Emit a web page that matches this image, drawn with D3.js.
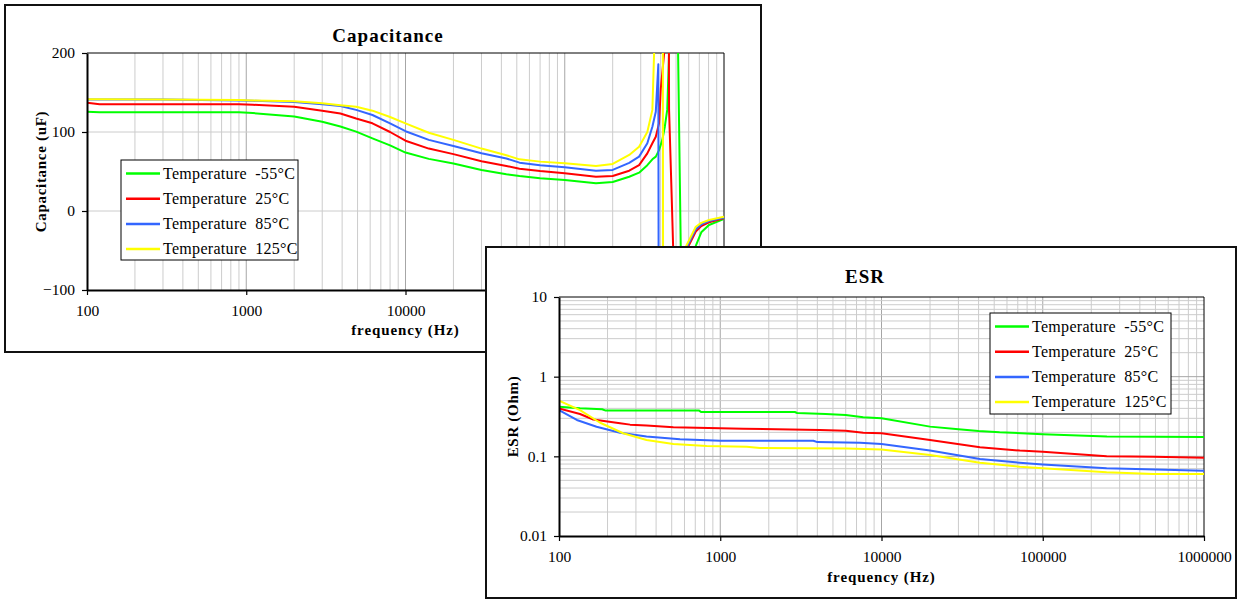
<!DOCTYPE html>
<html><head><meta charset="utf-8">
<script src="https://cdn.jsdelivr.net/npm/d3@7"></script>
<style>
body{margin:0;background:#fff}
svg{display:block}
text{font-family:"Liberation Serif","Times New Roman",serif;fill:#000}
</style>
</head><body>
<svg id="c" width="1237" height="599"></svg>
<script>
// ---------------- DATA ----------------
const seriesLabels = ["Temperature -55°C", "Temperature 25°C", "Temperature 85°C", "Temperature 125°C"];

// Capacitance (uF) vs frequency (Hz)
const capFreqM55 = [100,120,300,900,1100,2000,3000,3900,4900,6200,8000,10000,14000,20000,30000,43000,52000,70000,100000,157000,200000,254000,293000,330000,355000,373000,391000,410000,425000,440000,452000,456000,510000,515000,535000,545000,660000,665000,720000,805000,1000000];
const capValM55  = [125.5,125,125,125,124,119.5,113,107,100.5,92,83,74,66,60,52,46.5,44.3,41.5,39.2,35,36.7,43.4,48.5,58,65.4,68.8,77,90,106.7,128,200,500,500,200,-44,-500,-500,-44,-27,-17.7,-10];

const capFreq25 = [100,120,300,900,1100,2000,3000,3900,4900,6200,8000,10000,14000,20000,30000,43000,52000,70000,100000,157000,200000,254000,293000,330000,355000,373000,391000,401000,421000,426000,446000,452000,470000,480000,490000,595000,600000,665000,720000,805000,1000000];
const capVal25  = [137,135,135,135,134.5,132,127,123.5,117,111,100,89,79,72,63,57,53.6,50.5,47.7,43.4,44.3,51,58,73,85.7,94,111,155,200,500,500,128,14,-50,-500,-500,-44,-26,-19,-14.3,-9.2];

const capFreq85 = [100,120,300,900,1100,2000,3000,3900,4900,6200,8000,10000,14000,20000,30000,43000,52000,70000,100000,157000,200000,254000,293000,330000,355000,373000,387000,391000,585000,590000,665000,720000,805000,1000000];
const capVal85  = [141,141,141,140,139.5,138,135,133,128,121.5,111,101,90,82.3,73,66.5,61.2,58,55.3,51,52,61,68.8,85.7,106.7,125.7,185.7,-500,-500,-44,-23,-17,-12.7,-8.5];

const capFreq125 = [100,120,300,900,1100,2000,3000,3900,4900,6200,8000,10000,14000,20000,30000,43000,52000,70000,100000,157000,200000,254000,293000,330000,355000,364000,370000,412000,416000,575000,580000,665000,720000,805000,1000000];
const capVal125  = [141.5,141.5,141,140.5,140,139,136.5,134,132,127,119,111,99,90,79,70.5,65.4,62.5,60.4,57,59.5,71,81.4,100,128,200,500,500,-500,-500,-44,-20,-15,-11.4,-7.2];

const capXTicks = [100,1000,10000,100000,1000000];
const capYTicks = [-100,0,100,200];

// ESR (Ohm) vs frequency (Hz)
const esrFreqM55 = [100,135,185,195,740,760,2900,3000,4500,6000,7700,10000,20000,30000,40000,54000,100000,250000,1000000];
const esrValM55  = [0.42,0.40,0.39,0.375,0.375,0.36,0.36,0.35,0.34,0.33,0.31,0.30,0.236,0.219,0.208,0.20,0.19,0.177,0.175];

const esrFreq25 = [100,135,163,239,276,349,512,1390,4160,6000,7700,10000,20000,40800,72000,100000,249000,485000,1000000];
const esrVal25  = [0.40,0.34,0.29,0.26,0.25,0.243,0.231,0.222,0.214,0.21,0.198,0.195,0.16,0.13,0.118,0.114,0.10,0.0985,0.096];

const esrFreq85 = [100,129,171,239,349,563,1000,3780,4000,7360,10000,20000,40800,72000,100000,249000,1000000];
const esrVal85  = [0.38,0.286,0.235,0.198,0.177,0.164,0.157,0.157,0.151,0.148,0.143,0.118,0.0925,0.083,0.079,0.071,0.066];

const esrFreq125 = [100,135,180,250,349,512,824,1460,1760,6090,10000,20000,40800,72000,100000,249000,485000,1000000];
const esrVal125  = [0.50,0.38,0.264,0.195,0.16,0.143,0.135,0.132,0.127,0.125,0.122,0.104,0.083,0.074,0.071,0.063,0.06,0.06];

const esrXTicks = [100,1000,10000,100000,1000000];
const esrYTicks = [0.01,0.1,1,10];

// ---------------- STYLE ----------------
const colors = ["#00ff00", "#ff0000", "#3366ff", "#ffff00"];

const svg = d3.select("#c");
const zip = (f, v) => f.map((d, i) => [d, v[i]]);

function panel(o) {
  const g = svg.append("g");
  const [bx0, by0, bx1, by1] = o.box;
  const [px0, py0, px1, py1] = o.plot;
  g.append("rect").attr("x", bx0).attr("y", by0).attr("width", bx1 - bx0).attr("height", by1 - by0)
    .attr("fill", "#fff").attr("stroke", "#111").attr("stroke-width", 2);

  const x = d3.scaleLog().domain([100, 1000000]).range([px0, px1]);
  const y = o.y.range([py1, py0]);

  const isDecade = v => Math.abs(Math.log10(v) - Math.round(Math.log10(v))) < 1e-9;
  g.append("g").selectAll("line").data(x.ticks().filter(v => v > 100 && v < 1000000)).join("line")
    .attr("x1", d => x(d)).attr("x2", d => x(d)).attr("y1", py0).attr("y2", py1)
    .attr("stroke", d => isDecade(d) ? "#a6a6a6" : "#cccccc").attr("stroke-width", 1);
  g.append("g").selectAll("line").data(o.yGrid).join("line")
    .attr("x1", px0).attr("x2", px1).attr("y1", d => y(d)).attr("y2", d => y(d))
    .attr("stroke", d => o.yMajor(d) ? "#a6a6a6" : "#cccccc").attr("stroke-width", 1);

  g.append("path").attr("d", `M${px0},${py0}H${px1}V${py1}`).attr("fill", "none").attr("stroke", "#000").attr("stroke-width", 1);

  const cid = "clip" + o.id;
  svg.append("defs").append("clipPath").attr("id", cid).append("rect")
    .attr("x", px0).attr("y", py0).attr("width", px1 - px0).attr("height", py1 - py0);
  const line = d3.line().x(d => x(d[0])).y(d => y(d[1]));
  g.append("g").attr("clip-path", `url(#${cid})`).selectAll("path").data(o.series).join("path")
    .attr("d", d => line(d)).attr("fill", "none").attr("stroke", (d, i) => colors[i])
    .attr("stroke-width", 2).attr("stroke-linejoin", "round");

  const ax = g.append("g").attr("transform", `translate(0,${py1})`)
    .call(d3.axisBottom(x).tickValues(o.xTicks).tickFormat(d3.format("d")).tickSize(5).tickSizeOuter(0).tickPadding(10));
  const ay = g.append("g").attr("transform", `translate(${px0},0)`)
    .call(d3.axisLeft(y).tickValues(o.yTicks).tickFormat(o.yFmt).tickSize(5).tickSizeOuter(0).tickPadding(7));
  [ax, ay].forEach(a => {
    a.attr("font-family", null).attr("font-size", null);
    a.selectAll("text").style("font-size", "15.5px").attr("fill", "#000");
    a.select(".domain").attr("stroke", "#000").attr("stroke-width", 2);
    a.selectAll(".tick line").attr("stroke", "#000").attr("stroke-width", 1.2);
  });

  g.append("text").attr("x", o.titleX).attr("y", o.titleY).attr("text-anchor", "middle")
    .style("font-size", "19px").style("font-weight", "bold").style("letter-spacing", "1px").text(o.title);
  g.append("text").attr("x", (px0 + px1) / 2).attr("y", o.xTitleY).attr("text-anchor", "middle")
    .style("font-size", "15px").style("font-weight", "bold").style("letter-spacing", "0.9px").text("frequency (Hz)");
  g.append("text").attr("transform", `translate(${o.yTitleX},${(py0 + py1) / 2}) rotate(-90)`).attr("text-anchor", "middle")
    .style("font-size", "15px").style("font-weight", "bold").style("letter-spacing", "0.7px").text(o.yTitle);

  const [lx0, ly0, lx1, ly1] = o.legend;
  const lg = g.append("g");
  lg.append("rect").attr("x", lx0).attr("y", ly0).attr("width", lx1 - lx0).attr("height", ly1 - ly0)
    .attr("fill", "#fff").attr("stroke", "#000").attr("stroke-width", 1);
  const items = lg.selectAll("g").data(seriesLabels).join("g")
    .attr("transform", (d, i) => `translate(0,${ly0 + 13.5 + i * 25.2})`);
  items.append("line").attr("x1", lx0 + 5).attr("x2", lx0 + 39).attr("y1", 0).attr("y2", 0)
    .attr("stroke", (d, i) => colors[i]).attr("stroke-width", 2.5);
  items.append("text").attr("x", lx0 + 42).attr("y", 5)
    .style("font-size", "16px").style("letter-spacing", "0.3px").style("word-spacing", "4px").text(d => d);
}

panel({
  id: "cap", title: "Capacitance", yTitle: "Capacitance (uF)",
  box: [5, 5, 761, 352], plot: [87, 53, 724, 290],
  y: d3.scaleLinear().domain([-100, 200]),
  yGrid: [0, 100], yMajor: () => false,
  xTicks: capXTicks, yTicks: capYTicks, yFmt: d3.format("d"),
  titleX: 388, titleY: 42, xTitleY: 335, yTitleX: 46,
  legend: [121, 160, 298, 260],
  series: [zip(capFreqM55, capValM55), zip(capFreq25, capVal25), zip(capFreq85, capVal85), zip(capFreq125, capVal125)]
});

const esrY = d3.scaleLog().domain([0.01, 10]);
panel({
  id: "esr", title: "ESR", yTitle: "ESR (Ohm)",
  box: [486, 247, 1236, 598], plot: [559, 297, 1204, 536],
  y: esrY,
  yGrid: esrY.ticks().filter(v => v > 0.01 && v < 10),
  yMajor: v => Math.abs(Math.log10(v) - Math.round(Math.log10(v))) < 1e-9,
  xTicks: esrXTicks, yTicks: esrYTicks, yFmt: d => String(d),
  titleX: 865, titleY: 283, xTitleY: 582, yTitleX: 518,
  legend: [990, 313, 1171, 414],
  series: [zip(esrFreqM55, esrValM55), zip(esrFreq25, esrVal25), zip(esrFreq85, esrVal85), zip(esrFreq125, esrVal125)]
});
</script>
</body></html>
